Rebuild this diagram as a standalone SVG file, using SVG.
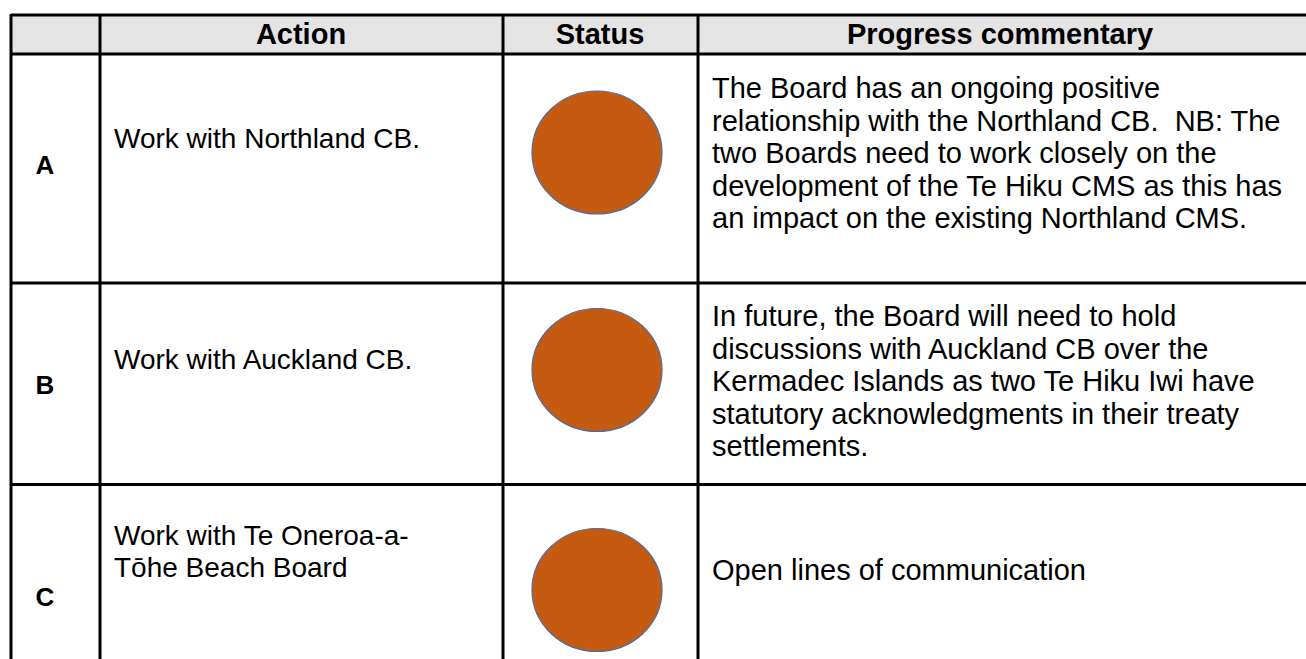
<svg xmlns="http://www.w3.org/2000/svg" width="1306" height="659" viewBox="0 0 1306 659">
<style>
.grid{stroke:#000;stroke-width:3;fill:none}
.hd{font-family:"Liberation Sans",Arial,sans-serif;font-weight:bold;font-size:29px;fill:#000}
.lb{font-family:"Liberation Sans",Arial,sans-serif;font-weight:bold;font-size:26px;fill:#000}
.tx{font-family:"Liberation Sans",Arial,sans-serif;font-size:29px;fill:#000}
.ac{font-family:"Liberation Sans",Arial,sans-serif;font-size:28px;fill:#000}
.dot{fill:#c55a11;stroke:#4f6b9b;stroke-width:1.2}
</style>
<rect width="1306" height="659" fill="#fff"/>
<g id="header">
<rect x="11" y="15" width="1295" height="39" fill="#e4e4e4"/>
<text class="hd" x="301" y="43.5" text-anchor="middle">Action</text>
<text class="hd" x="600" y="43.5" text-anchor="middle">Status</text>
<text class="hd" x="1000" y="43.5" text-anchor="middle">Progress commentary</text>
</g>
<g id="grid">
<line class="grid" x1="11" y1="15" x2="1306" y2="15"/>
<line class="grid" x1="11" y1="54" x2="1306" y2="54"/>
<line class="grid" x1="11" y1="283" x2="1306" y2="283"/>
<line class="grid" x1="11" y1="484.5" x2="1306" y2="484.5"/>
<line class="grid" x1="11" y1="14" x2="11" y2="659"/>
<line class="grid" x1="100" y1="14" x2="100" y2="659"/>
<line class="grid" x1="503" y1="14" x2="503" y2="659"/>
<line class="grid" x1="698" y1="14" x2="698" y2="659"/>
</g>
<g id="rowA">
<text class="lb" x="45" y="174" text-anchor="middle">A</text>
<text class="ac" x="114" y="148">Work with Northland CB.</text>
<ellipse class="dot" cx="597" cy="152.5" rx="65" ry="61.5"/>
<text class="tx">
<tspan x="712" y="98">The Board has an ongoing positive</tspan>
<tspan x="712" y="130.5">relationship with the Northland CB.&#160; NB: The</tspan>
<tspan x="712" y="163">two Boards need to work closely on the</tspan>
<tspan x="712" y="195.5">development of the Te Hiku CMS as this has</tspan>
<tspan x="712" y="228">an impact on the existing Northland CMS.</tspan>
</text>
</g>
<g id="rowB">
<text class="lb" x="45" y="394" text-anchor="middle">B</text>
<text class="ac" x="114" y="369">Work with Auckland CB.</text>
<ellipse class="dot" cx="597" cy="370" rx="65" ry="61.5"/>
<text class="tx">
<tspan x="712" y="326">In future, the Board will need to hold</tspan>
<tspan x="712" y="358.5">discussions with Auckland CB over the</tspan>
<tspan x="712" y="391">Kermadec Islands as two Te Hiku Iwi have</tspan>
<tspan x="712" y="423.5">statutory acknowledgments in their treaty</tspan>
<tspan x="712" y="456">settlements.</tspan>
</text>
</g>
<g id="rowC">
<text class="lb" x="45" y="606" text-anchor="middle">C</text>
<text class="ac">
<tspan x="114" y="545">Work with Te Oneroa-a-</tspan>
<tspan x="114" y="577">Tōhe Beach Board</tspan>
</text>
<ellipse class="dot" cx="597" cy="590" rx="65" ry="61.5"/>
<text class="tx" x="712" y="580">Open lines of communication</text>
</g>
</svg>
